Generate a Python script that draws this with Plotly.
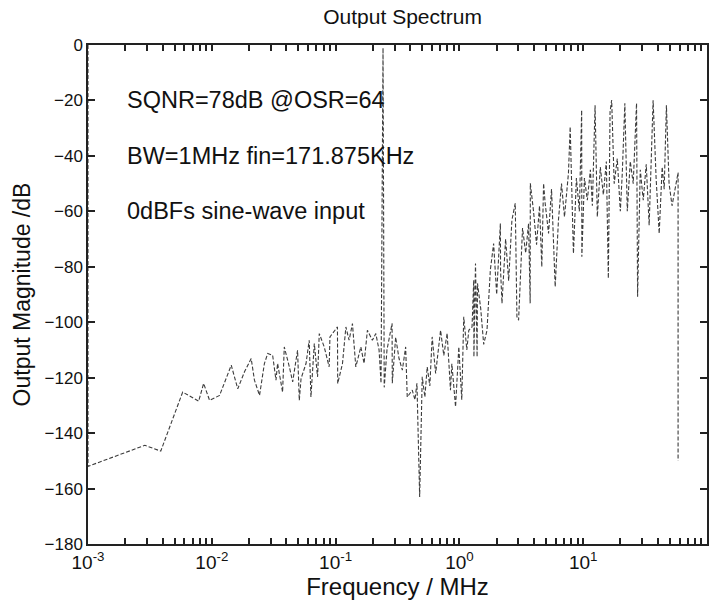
import plotly.graph_objects as go

# Frequency (MHz) and magnitude (dB)
freq_mhz = [
    0.001, 0.001, 0.00288, 0.00387, 0.00582, 0.00783, 0.00859, 0.0096, 0.01156, 0.01436,
    0.0162, 0.01837, 0.0208, 0.0221, 0.0243, 0.0266, 0.0283, 0.0310, 0.0330, 0.0340,
    0.0373, 0.0385, 0.0423, 0.0450, 0.0493, 0.0509, 0.0526, 0.0577, 0.0612, 0.0632,
    0.0673, 0.0715, 0.0738, 0.0809, 0.0887, 0.0900, 0.1035, 0.1040, 0.1137, 0.1211,
    0.1285, 0.1368, 0.1456, 0.1600, 0.1698, 0.1807, 0.1982, 0.2113, 0.2244, 0.2328,
    0.2416, 0.2470, 0.2600, 0.2858, 0.2870, 0.3055, 0.3250, 0.3460, 0.3680, 0.3790,
    0.4160, 0.4375, 0.4540, 0.4775, 0.5010, 0.5260, 0.5495, 0.5770, 0.6026, 0.6427,
    0.7047, 0.7480, 0.7960, 0.8470, 0.8690, 0.9310, 0.9890, 1.045, 1.084, 1.148,
    1.191, 1.265, 1.306, 1.310, 1.349, 1.390, 1.400, 1.486, 1.571, 1.671,
    1.778, 1.890, 2.000, 2.143, 2.150, 2.208, 2.362, 2.500, 2.655, 2.825,
    2.915, 3.006, 3.236, 3.430, 3.620, 3.730, 3.740, 3.970, 4.200, 4.440,
    4.630, 4.786, 4.930, 5.250, 5.550, 5.940, 6.310, 6.680, 7.060, 7.600,
    7.850, 8.340, 8.810, 9.310, 9.720, 9.750, 10.23, 10.80, 11.43, 11.86,
    12.47, 13.00, 13.75, 14.55, 15.38, 15.96, 16.48, 16.98, 17.80, 18.85,
    19.95, 20.70, 21.70, 22.70, 24.00, 25.36, 26.97, 27.50, 28.90, 30.55,
    32.30, 34.10, 36.70, 38.80, 41.10, 43.45, 45.10, 47.00, 49.40, 52.20,
    55.20, 58.40, 58.40,
]
mag_db = [
    0.0, -152.0, -144.4, -146.5, -125.2, -128.5, -122.1, -128.2, -126.4, -115.5,
    -124.0, -117.9, -113.1, -120.9, -126.4, -114.9, -111.3, -111.9, -120.9, -114.9,
    -125.2, -108.9, -116.1, -121.5, -110.1, -128.2, -120.3, -114.9, -106.5, -127.0,
    -107.7, -119.7, -104.1, -108.9, -116.1, -105.3, -101.7, -122.1, -114.9, -101.7,
    -106.5, -100.5, -116.1, -108.9, -114.9, -102.9, -106.5, -104.1, -110.0, -122.0,
    -1.0, -123.5, -110.0, -100.4, -122.0, -105.4, -113.0, -117.3, -108.9, -127.0,
    -124.5, -128.0, -122.0, -163.0, -119.7, -127.0, -116.1, -123.0, -105.3, -118.5,
    -102.9, -112.0, -104.0, -124.5, -115.0, -130.5, -108.9, -128.0, -98.0, -110.0,
    -102.9, -101.7, -84.8, -112.5, -78.8, -112.5, -86.0, -95.0, -108.0, -102.9,
    -81.2, -71.6, -90.0, -64.4, -81.2, -93.2, -70.0, -85.0, -63.2, -57.1,
    -98.0, -99.3, -66.0, -75.0, -64.4, -93.2, -49.9, -60.0, -72.0, -58.0,
    -80.0, -49.9, -57.1, -68.0, -52.0, -87.2, -63.2, -50.0, -62.0, -46.3,
    -29.5, -75.2, -48.0, -60.0, -23.5, -76.4, -48.0, -56.0, -45.0, -58.0,
    -21.7, -62.0, -44.0, -54.0, -42.0, -84.2, -24.1, -19.9, -50.0, -41.0,
    -60.0, -46.0, -21.0, -60.0, -42.0, -50.0, -21.0, -90.8, -45.0, -56.0,
    -43.0, -65.0, -19.9, -48.0, -68.0, -44.0, -52.0, -21.7, -50.0, -58.0,
    -52.0, -46.0, -150.0,
]

decade_vals = [0.001, 0.01, 0.1, 1, 10, 100]
decade_text = ["10<sup>-3</sup>", "10<sup>-2</sup>", "10<sup>-1</sup>",
               "10<sup>0</sup>", "10<sup>1</sup>", "10<sup>2</sup>"]
minor_digits = [2, 3, 4, 5, 6, 7, 8, 9]
minor_vals = [d * t for t in decade_vals[:-1] for d in minor_digits]
x_tickvals = decade_vals + minor_vals
x_ticktext = decade_text + [""] * len(minor_vals)

title_text = "Output Spectrum"
x_title = "Frequency / MHz"
y_title = "Output Magnitude /dB"
notes = ["SQNR=78dB @OSR=64", "BW=1MHz fin=171.875KHz", "0dBFs sine-wave input"]
note_y = [-20, -40, -60]
note_x_decade = -2.70  # log10(MHz) of the left edge of the text block

FONT = "Liberation Sans, Arial, sans-serif"

fig = go.Figure()
fig.add_trace(go.Scatter(
    x=freq_mhz, y=mag_db, mode="lines",
    line=dict(color="#3c3c3c", width=1.1, dash="4px,2px"),
    showlegend=False, hoverinfo="skip",
))

for t, yv in zip(notes, note_y):
    fig.add_annotation(
        x=note_x_decade, y=yv, xref="x", yref="y", text=t, showarrow=False,
        xanchor="left", yanchor="middle",
        font=dict(family=FONT, size=23.5, color="#111"),
    )

fig.update_layout(
    width=719, height=602,
    margin=dict(l=88, r=10, t=45, b=58),
    paper_bgcolor="white", plot_bgcolor="white",
    font=dict(family=FONT, color="#111"),
    title=dict(text=title_text, x=0.56, xanchor="center", y=0.972, yanchor="middle",
               font=dict(family=FONT, size=21, color="#111")),
)
fig.update_xaxes(
    type="log", range=[-3, 2],
    tickmode="array", tickvals=x_tickvals, ticktext=x_ticktext,
    ticks="inside", ticklen=6, tickwidth=1.5, tickcolor="#222",
    showline=True, linecolor="#222", linewidth=1.5, mirror="ticks",
    showgrid=False, zeroline=False,
    tickfont=dict(family=FONT, size=19, color="#111"),
    title=dict(text=x_title, font=dict(family=FONT, size=24, color="#111"), standoff=0),
)
fig.update_yaxes(
    range=[-180, 0], dtick=20, tick0=0,
    ticks="inside", ticklen=7, tickwidth=1.5, tickcolor="#222",
    showline=True, linecolor="#222", linewidth=1.5, mirror="ticks",
    showgrid=False, zeroline=False,
    tickfont=dict(family=FONT, size=17, color="#111"),
    title=dict(text=y_title, font=dict(family=FONT, size=23, color="#111"), standoff=8),
)

fig.write_html("out.html")
